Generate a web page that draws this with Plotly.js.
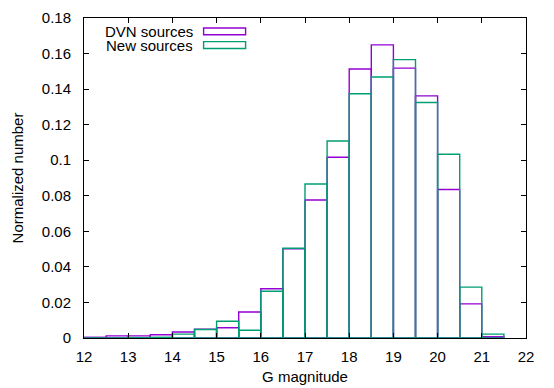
<!DOCTYPE html>
<html>
<head>
<meta charset="utf-8">
<script src="https://cdn.plot.ly/plotly-3.0.1.min.js"></script>
<style>html,body{margin:0;padding:0;background:#fff;}#chart{width:554px;height:388px;}</style>
</head>
<body>
<div id="chart"></div>
<script>
// Bin centres (G magnitude), bin width 0.5
const binCenters = [12.25,12.75,13.25,13.75,14.25,14.75,15.25,15.75,16.25,16.75,17.25,17.75,18.25,18.75,19.25,19.75,20.25,20.75,21.25];
const binWidth = 0.5;
const dvnSources = [0.0004,0.0012,0.0012,0.0018,0.0034,0.0050,0.0058,0.0146,0.0277,0.0502,0.0776,0.1017,0.1513,0.1649,0.1518,0.1362,0.0835,0.0192,0.0007];
const newSources = [0.0000,0.0000,0.0002,0.0004,0.0022,0.0048,0.0094,0.0044,0.0263,0.0505,0.0866,0.1108,0.1374,0.1468,0.1566,0.1325,0.1034,0.0286,0.0022];
const seriesNames = ["DVN sources","New sources"];
const seriesColors = ["#9400d3","#009e73"];
const yTickVals = [0,0.02,0.04,0.06,0.08,0.1,0.12,0.14,0.16,0.18];
const yTickText = ["0","0.02","0.04","0.06","0.08","0.1","0.12","0.14","0.16","0.18"];
const xTickVals = [12,13,14,15,16,17,18,19,20,21,22];

const font = {family: "Liberation Sans, Arial, sans-serif", size: 15, color: "#000"};

function barTrace(y, i){
  return {
    type: "bar", x: binCenters, y: y, width: binWidth, name: seriesNames[i],
    marker: {color: "rgba(0,0,0,0)", line: {color: seriesColors[i], width: 1.4}},
    showlegend: false, hoverinfo: "x+y"
  };
}
const data = [barTrace(dvnSources,0), barTrace(newSources,1)];

// legend built as text + sample boxes (text left, sample right, like gnuplot)
const plotL = 84.4, plotW = 442, plotB = 338, plotH = 319.7;
const px = v => (v - plotL) / plotW;
const py = v => (plotB - v) / plotH;
const legendRows = [31.7, 45.3];
const annotations = seriesNames.map((n,i)=>({
  xref:"paper", yref:"paper", x: px(194), y: py(legendRows[i]), xanchor:"right", yanchor:"middle",
  text: n, showarrow:false, font: font, height: 13, borderpad: 0
}));
const shapes = seriesNames.map((n,i)=>({
  type:"rect", xref:"paper", yref:"paper",
  x0: px(204), x1: px(246), y0: py(legendRows[i]-3.4), y1: py(legendRows[i]+3.4),
  line:{color: seriesColors[i], width:1.4}, fillcolor:"rgba(0,0,0,0)"
}));

const layout = {
  width: 554, height: 388,
  margin: {l: 84.4, r: 27.6, t: 18.3, b: 50, pad: 0},
  paper_bgcolor: "#fff", plot_bgcolor: "#fff",
  barmode: "overlay", bargap: 0,
  font: font, showlegend: false,
  xaxis: {
    range: [12,22], tickvals: xTickVals, ticks: "inside", ticklen: 5, tickcolor:"#000",
    showline: true, linecolor: "#000", linewidth: 1, mirror: "ticks", showgrid: false, zeroline: false,
    ticklabelstandoff: 5,
    title: {text: "G magnitude", font: font, standoff: 7}, tickfont: font
  },
  yaxis: {
    range: [0,0.18], tickvals: yTickVals, ticktext: yTickText, ticks: "inside", ticklen: 5, tickcolor:"#000",
    showline: true, linecolor: "#000", linewidth: 1, mirror: "ticks", showgrid: false, zeroline: false,
    ticklabelstandoff: 9,
    title: {text: "Normalized number", font: font, standoff: 14}, tickfont: font
  },
  annotations: annotations, shapes: shapes
};
Plotly.newPlot("chart", data, layout, {displayModeBar: false, staticPlot: true});
</script>
</body>
</html>
